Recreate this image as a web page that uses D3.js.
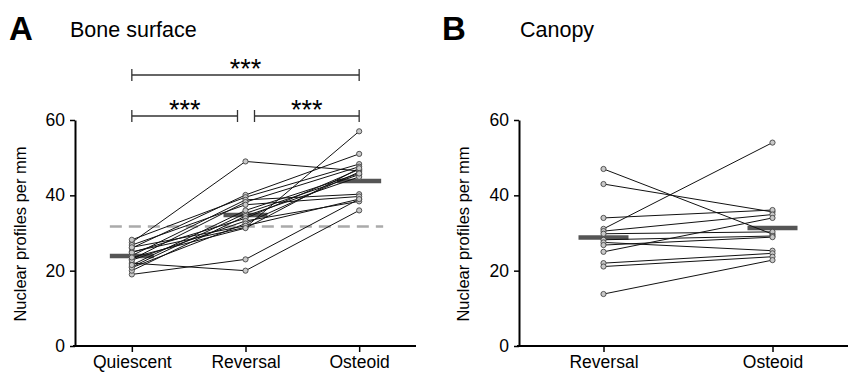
<!DOCTYPE html>
<html>
<head>
<meta charset="utf-8">
<script src="https://cdn.jsdelivr.net/npm/d3@7"></script>
<style>
  body { margin: 0; background: #fff; }
  svg { font-family: "Liberation Sans", Arial, sans-serif; }
</style>
</head>
<body>
<div id="chart"></div>
<script>
// panel A: bone surface, one entry per subject
const boneStages = ["Quiescent", "Reversal", "Osteoid"];
const boneQuiescent = [27.5, 19.0, 22.0, 25.0, 26.0, 28.2, 24.0, 23.0, 26.8, 21.0, 20.0, 24.8, 22.8, 20.8, 26.2, 23.5, 21.5];
const boneReversal  = [49.0, 23.0, 20.0, 31.5, 40.1, 39.5, 38.8, 38.2, 37.5, 35.2, 34.5, 33.9, 33.2, 32.5, 31.9, 31.3, 36.0];
const boneOsteoid   = [46.5, 39.0, 36.0, 57.0, 51.0, 48.3, 40.3, 47.6, 39.7, 45.5, 44.9, 46.9, 38.4, 46.2, 39.0, 47.2, 45.8];
const boneMeans = [23.9, 34.8, 43.8];
const boneReference = 31.7;

// panel B: canopy
const canopyStages = ["Reversal", "Osteoid"];
const canopyReversal = [47.0, 43.0, 34.0, 31.1, 30.5, 29.8, 28.2, 27.5, 26.8, 25.0, 22.0, 21.1, 13.8];
const canopyOsteoid  = [29.7, 35.6, 36.1, 54.0, 34.9, 30.3, 29.2, 25.3, 28.9, 34.0, 24.6, 23.7, 22.8];
const canopyMeans = [28.8, 31.3];

const yTicks = [0, 20, 40, 60];
const yLabel = "Nuclear profiles per mm";
const stars = "***";

const W = 848, H = 373;
const svg = d3.select("#chart").append("svg").attr("width", W).attr("height", H);

const y = d3.scaleLinear().domain([0, 60]).range([346, 120]);

function panel(opts) {
  const g = svg.append("g");
  const x = d3.scalePoint().domain(opts.stages).range(opts.xRange).padding(0.5);

  // axes
  const xa = g.append("g").attr("transform", "translate(0,346)")
    .call(d3.axisBottom(x).tickSize(6).tickSizeOuter(0).tickPadding(4));
  const ya = g.append("g").attr("transform", `translate(${opts.axisX},0)`)
    .call(d3.axisLeft(y).tickValues(yTicks).tickSize(5).tickSizeOuter(0).tickPadding(5));
  [xa, ya].forEach(a => {
    a.select(".domain").attr("stroke", "#000").attr("stroke-width", 2);
    a.selectAll(".tick line").attr("stroke", "#000").attr("stroke-width", 1.5);
    a.selectAll(".tick text").attr("fill", "#000").style("font-size", "17.5px");
  });
  xa.select(".domain").attr("d", `M${opts.axisX - 2},0H${opts.xRange[1]}`);

  g.append("text")
    .attr("transform", `translate(${opts.labelX},234) rotate(-90)`)
    .attr("text-anchor", "middle")
    .style("font-size", "16.5px")
    .text(yLabel);

  // titles
  g.append("text").attr("x", opts.letterX).attr("y", 40)
    .style("font-size", "33px").style("font-weight", "bold").text(opts.letter);
  g.append("text").attr("x", opts.titleX).attr("y", 37)
    .style("font-size", "21.5px").text(opts.title);

  // reference line
  if (opts.reference != null) {
    g.append("line")
      .attr("x1", x(opts.stages[0]) - 22).attr("x2", x(opts.stages[opts.stages.length - 1]) + 24)
      .attr("y1", y(opts.reference)).attr("y2", y(opts.reference))
      .attr("stroke", "#aaa").attr("stroke-width", 2.5).attr("stroke-dasharray", "12,7");
  }

  // mean bars
  g.selectAll(".mean").data(opts.means).join("line")
    .attr("x1", (d, i) => x(opts.stages[i]) - opts.barHalf)
    .attr("x2", (d, i) => x(opts.stages[i]) + opts.barHalf)
    .attr("y1", d => y(d)).attr("y2", d => y(d))
    .attr("stroke", "#555").attr("stroke-width", 4.5);

  // subjects
  const subjects = opts.series[0].map((_, k) => opts.series.map((s, i) => ({ stage: opts.stages[i], v: s[k] })));
  const line = d3.line().x(d => x(d.stage)).y(d => y(d.v));
  g.selectAll(".subj").data(subjects).join("path")
    .attr("d", line).attr("fill", "none").attr("stroke", "#111").attr("stroke-width", 1);
  g.selectAll(".dot").data(subjects.flat()).join("circle")
    .attr("cx", d => x(d.stage)).attr("cy", d => y(d.v)).attr("r", 2.6)
    .attr("fill", "#c8c8c8").attr("stroke", "#444").attr("stroke-width", 0.9);

  return x;
}

const xA = panel({
  stages: boneStages, series: [boneQuiescent, boneReversal, boneOsteoid], means: boneMeans,
  reference: boneReference, xRange: [75, 416], axisX: 75, labelX: 26, barHalf: 22,
  letter: "A", letterX: 9, title: "Bone surface", titleX: 70
});

panel({
  stages: canopyStages, series: [canopyReversal, canopyOsteoid], means: canopyMeans,
  reference: null, xRange: [519, 857], axisX: 519, labelX: 469, barHalf: 25,
  letter: "B", letterX: 442, title: "Canopy", titleX: 520
});

// significance brackets in panel A
const brackets = [
  { from: 0, to: 2, y: 75, inset: [0, 0] },
  { from: 0, to: 1, y: 116, inset: [0, -8] },
  { from: 1, to: 2, y: 116, inset: [9, 0] }
];
const bg = svg.append("g").attr("stroke", "#333").attr("stroke-width", 1.3);
brackets.forEach(b => {
  const x1 = xA(boneStages[b.from]) + b.inset[0], x2 = xA(boneStages[b.to]) + b.inset[1];
  bg.append("line").attr("x1", x1).attr("x2", x2).attr("y1", b.y).attr("y2", b.y);
  [x1, x2].forEach(xx => bg.append("line").attr("x1", xx).attr("x2", xx).attr("y1", b.y - 6).attr("y2", b.y + 6));
  svg.append("text").attr("x", (x1 + x2) / 2).attr("y", b.y + 3)
    .attr("text-anchor", "middle").style("font-size", "27px")
    .text(stars);
});
</script>
</body>
</html>
